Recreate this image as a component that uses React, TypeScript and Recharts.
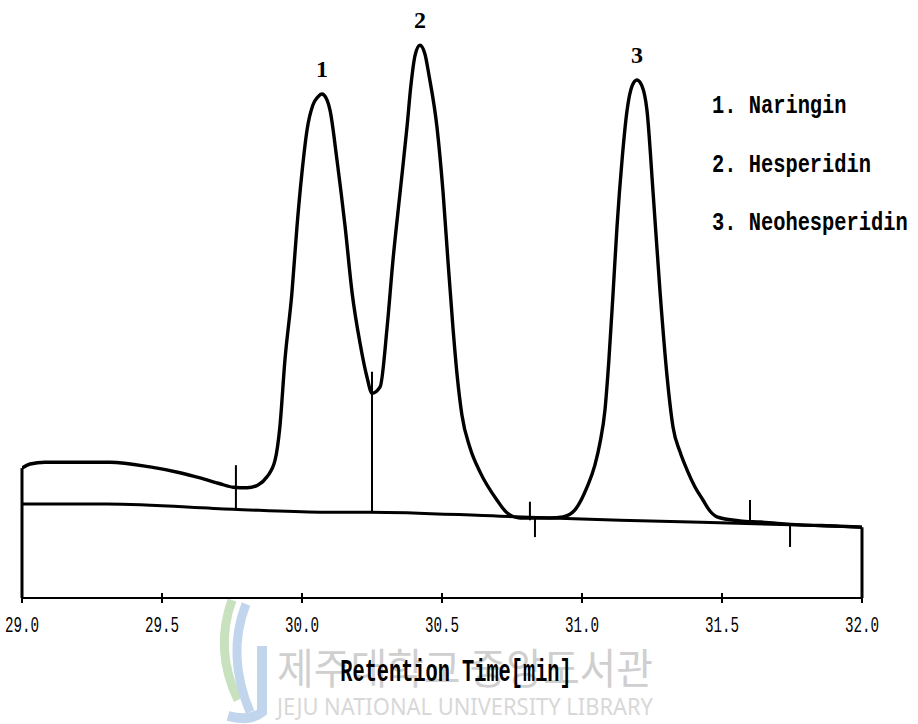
import { ComposedChart, Line, XAxis, YAxis, ReferenceLine, ReferenceDot } from 'recharts';

// chromatogram trace (min, mV)
const TRACE_TIME = [
  29.0, 29.029, 29.082, 29.207, 29.314, 29.457, 29.564, 29.636, 29.707, 29.754,
  29.804, 29.843, 29.875, 29.904, 29.921, 29.939, 29.964, 29.982, 30.0, 30.018,
  30.039, 30.057, 30.071, 30.086, 30.1, 30.125, 30.154, 30.179, 30.207, 30.232,
  30.25, 30.279, 30.304, 30.325, 30.35, 30.375, 30.389, 30.404, 30.421, 30.439,
  30.454, 30.482, 30.504, 30.521, 30.539, 30.554, 30.571, 30.6, 30.636, 30.696,
  30.732, 30.779, 30.814, 30.886, 30.932, 30.975, 31.018, 31.046, 31.064, 31.082,
  31.096, 31.111, 31.125, 31.143, 31.161, 31.179, 31.196, 31.214, 31.232, 31.254,
  31.279, 31.304, 31.325, 31.35, 31.375, 31.404, 31.432, 31.457, 31.482, 31.564,
  31.636, 31.779, 31.921, 32.0,
];
const TRACE_SIGNAL = [
  22.4, 23.1, 23.4, 23.4, 23.4, 22.6, 21.6, 20.7, 19.7, 19.1,
  19.0, 19.5, 20.9, 23.8, 29.5, 41.0, 52.6, 64.0, 73.4, 80.7,
  85.0, 86.4, 86.9, 86.2, 84.1, 75.5, 64.0, 52.6, 44.0, 38.1,
  35.3, 36.4, 46.7, 58.3, 69.8, 81.2, 88.4, 93.6, 95.3, 93.8,
  90.0, 81.2, 69.8, 58.3, 46.7, 38.4, 31.6, 25.9, 21.7, 16.9,
  14.7, 13.8, 13.8, 13.8, 14.0, 15.2, 19.1, 22.9, 26.7, 32.4,
  41.0, 52.6, 64.0, 75.5, 84.1, 88.3, 89.3, 88.3, 84.1, 69.8,
  52.6, 38.1, 29.5, 25.2, 22.1, 19.1, 16.9, 15.0, 14.0, 13.3,
  13.1, 12.6, 12.4, 12.2,
];

// integration baseline
const BASE_TIME = [29.0, 29.304, 29.754, 30.064, 30.243, 30.707, 31.136, 31.779, 32.0];
const BASE_SIGNAL = [16.2, 16.2, 15.3, 14.8, 14.8, 14.1, 13.4, 12.6, 12.2];

// integration event marks
const MARK_TIME = [29.764, 30.25, 30.814, 30.832, 31.6, 31.743];
const MARK_FROM = [22.9, 39.0, 16.6, 14.0, 16.9, 12.6];
const MARK_TO = [15.2, 14.7, 13.4, 10.5, 12.9, 8.8];

const PEAK_TIME = [30.071, 30.421, 31.196];
const PEAK_SIGNAL = [86.9, 95.3, 89.3];
const PEAK_NAMES = ['Naringin', 'Hesperidin', 'Neohesperidin'];

const X_TICKS = [29.0, 29.5, 30.0, 30.5, 31.0, 31.5, 32.0];

const traceData = TRACE_TIME.map((t, i) => ({ time: t, signal: TRACE_SIGNAL[i] }));
const baseData = BASE_TIME.map((t, i) => ({ time: t, signal: BASE_SIGNAL[i] }));

const MONO = "'Liberation Mono', 'DejaVu Sans Mono', monospace";

function TimeTick({ x, y, payload }: any) {
  return (
    <g>
      <line x1={x} x2={x} y1={y - 5} y2={y + 5} stroke="#000" strokeWidth={2} />
      <text
        transform={`translate(${x},${y + 34}) scale(0.98,1.5)`}
        textAnchor="middle"
        fontFamily={MONO}
        fontSize={14.5}
        fill="#000"
      >
        {Number(payload.value).toFixed(1)}
      </text>
    </g>
  );
}

function AxisTitle({ viewBox }: any) {
  const cx = viewBox.x + viewBox.width / 2 + 14;
  return (
    <text
      transform={`translate(${cx},${viewBox.y + 83}) scale(1,1.58)`}
      textAnchor="middle"
      fontFamily={MONO}
      fontWeight="bold"
      fontSize={20.3}
      fill="#000"
    >
      Retention Time[min]
    </text>
  );
}

function peakLabel(n: number) {
  return ({ viewBox }: any) => {
    const cx = viewBox.x + viewBox.width / 2;
    return (
      <text
        x={cx}
        y={viewBox.y - 16}
        textAnchor="middle"
        fontFamily="'Liberation Serif', serif"
        fontWeight="bold"
        fontSize={24}
        fill="#000"
      >
        {n}
      </text>
    );
  };
}

export default function App() {
  return (
    <div style={{ position: 'absolute', left: 0, top: 0, width: 918, height: 724, background: '#fff' }}>
      <svg width={918} height={724} style={{ position: 'absolute', left: 0, top: 0 }}>
        <g opacity={0.55}>
          <path d="M 232 600 Q 214 650 238 700" fill="none" stroke="#9cc98a" strokeWidth={9} />
          <path d="M 246 604 Q 226 655 250 712" fill="none" stroke="#8fb4df" strokeWidth={9} />
          <path d="M 262 646 L 262 712 Q 250 722 228 716" fill="none" stroke="#8fb4df" strokeWidth={10} />
        </g>
        <text
          x={277}
          y={684}
          fontFamily="'Noto Sans CJK KR', sans-serif"
          fontSize={42}
          fill="#cfcfcf"
          textLength={376}
          lengthAdjust="spacingAndGlyphs"
        >
          제주대학교 중앙도서관
        </text>
        <text
          x={277}
          y={715}
          fontFamily="'Noto Sans', sans-serif"
          fontSize={24}
          fill="#d8d8d8"
          textLength={376}
          lengthAdjust="spacingAndGlyphs"
        >
          JEJU NATIONAL UNIVERSITY  LIBRARY
        </text>
        {PEAK_NAMES.map((name, i) => (
          <text
            key={name}
            transform={`translate(712,${113 + i * 58.5}) scale(1,1.3)`}
            fontFamily={MONO}
            fontWeight="bold"
            fontSize={20.4}
            fill="#000"
          >
            {`${i + 1}. ${name}`}
          </text>
        ))}
      </svg>
      <div style={{ position: 'absolute', left: 0, top: 0 }}>
        <ComposedChart width={918} height={724} margin={{ top: 18, right: 56, bottom: 26, left: 22 }}>
          <XAxis
            dataKey="time"
            type="number"
            domain={[29, 32]}
            ticks={X_TICKS}
            allowDataOverflow
            height={100}
            tickSize={0}
            tickMargin={0}
            tickLine={false}
            axisLine={{ stroke: '#000', strokeWidth: 2 }}
            tick={<TimeTick />}
            interval={0}
            label={{ content: (p: any) => <AxisTitle {...p} /> }}
          />
          <YAxis type="number" domain={[0, 100]} hide allowDataOverflow />
          <ReferenceLine
            segment={[{ x: 29, y: 0 }, { x: 29, y: TRACE_SIGNAL[0] }]}
            stroke="#000"
            strokeWidth={3}
          />
          <ReferenceLine
            segment={[{ x: 32, y: 0 }, { x: 32, y: TRACE_SIGNAL[TRACE_SIGNAL.length - 1] }]}
            stroke="#000"
            strokeWidth={3}
          />
          {MARK_TIME.map((t, i) => (
            <ReferenceLine
              key={`m${i}`}
              segment={[{ x: t, y: MARK_FROM[i] }, { x: t, y: MARK_TO[i] }]}
              stroke="#000"
              strokeWidth={2}
            />
          ))}
          <Line
            data={baseData}
            dataKey="signal"
            type="monotone"
            stroke="#000"
            strokeWidth={3}
            dot={false}
            activeDot={false}
            isAnimationActive={false}
          />
          <Line
            data={traceData}
            dataKey="signal"
            type="monotone"
            stroke="#000"
            strokeWidth={3.4}
            strokeLinejoin="round"
            dot={false}
            activeDot={false}
            isAnimationActive={false}
          />
          {PEAK_TIME.map((t, i) => (
            <ReferenceDot
              key={`p${i}`}
              x={t}
              y={PEAK_SIGNAL[i]}
              r={1}
              fill="none"
              stroke="none"
              label={peakLabel(i + 1)}
            />
          ))}
        </ComposedChart>
      </div>
    </div>
  );
}
